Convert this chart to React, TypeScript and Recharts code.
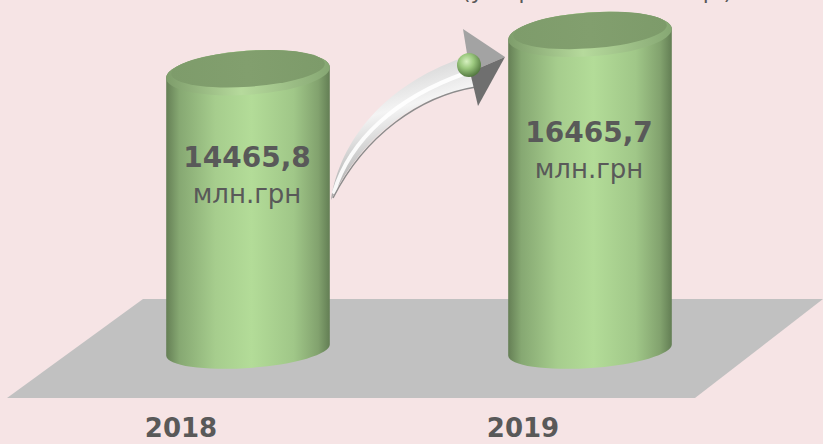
import { BarChart, Bar, XAxis, YAxis, LabelList } from 'recharts';

const years = ['2018', '2019'];
const revenue = [14465.8, 16465.7];
const unit = 'млн.грн';
const caption = '(у порівнянні з 2018 р.)';

const data = years.map((year, i) => ({ year, value: revenue[i] }));

const TILT = -4;
const TEXT = '#595959';

function Cylinder(props: any) {
  const { x, y, width, height } = props;
  const rx = width / 2;
  const cx = x + rx;
  const ryT = 22;
  const ryB = 18;
  const yT = y;
  const yB = y + height;
  const rad = (TILT * Math.PI) / 180;
  const dx = rx * Math.cos(rad);
  const dy = rx * Math.sin(rad);
  const body =
    `M ${cx - dx} ${yT - dy} L ${cx - dx} ${yB - dy} ` +
    `A ${rx} ${ryB} ${TILT} 0 0 ${cx + dx} ${yB + dy} ` +
    `L ${cx + dx} ${yT + dy} ` +
    `A ${rx} ${ryT} ${TILT} 0 0 ${cx - dx} ${yT - dy} Z`;
  return (
    <g>
      <path d={body} fill="url(#cylBody)" />
      <ellipse cx={cx} cy={yT} rx={rx} ry={ryT} transform={`rotate(${TILT} ${cx} ${yT})`} fill="url(#cylRim)" />
      <ellipse cx={cx} cy={yT - 4} rx={rx - 5} ry={ryT - 4} transform={`rotate(${TILT} ${cx} ${yT - 4})`} fill="url(#cylTop)" />
    </g>
  );
}

function ValueLabel(props: any) {
  const { x, y, width, height, value } = props;
  const cx = x + width / 2;
  const base = y + height * 0.34;
  return (
    <g fill={TEXT} fontFamily="'DejaVu Sans', Verdana, sans-serif" textAnchor="middle">
      <text x={cx - 1} y={base} fontSize={28} fontWeight="bold">
        {Number(value).toFixed(1).replace('.', ',')}
      </text>
      <text x={cx - 1} y={base + 36} fontSize={26}>
        {unit}
      </text>
    </g>
  );
}

function YearTick(props: any) {
  const { x, payload } = props;
  return (
    <text x={x - 67} y={437} textAnchor="middle" fill={TEXT} fontSize={26} fontWeight="bold" fontFamily="'DejaVu Sans', Verdana, sans-serif">
      {payload.value}
    </text>
  );
}

export default function App() {
  return (
    <div style={{ position: 'fixed', left: 0, top: 0, width: 823, height: 444, background: '#F6E4E5', overflow: 'hidden' }}>
      <svg width={823} height={444} style={{ position: 'absolute', left: 0, top: 0 }}>
        <polygon points="143,299 823,299 695,398 7,398" fill="#C1C1C1" />
        <text x={462} y={-1} fontSize={22} fill={TEXT} fontFamily="'DejaVu Sans', Verdana, sans-serif">
          {caption}
        </text>
      </svg>
      <div style={{ position: 'absolute', left: 0, top: 0 }}>
        <BarChart width={823} height={444} data={data} margin={{ top: 5, right: 62, bottom: 0, left: 77 }}>
          <defs>
            <linearGradient id="cylBody" x1="0" y1="0" x2="1" y2="0">
              <stop offset="0%" stopColor="#657F55" />
              <stop offset="8%" stopColor="#86A872" />
              <stop offset="30%" stopColor="#A6CD8D" />
              <stop offset="52%" stopColor="#B3DC98" />
              <stop offset="78%" stopColor="#A0C788" />
              <stop offset="93%" stopColor="#82A26E" />
              <stop offset="100%" stopColor="#637E54" />
            </linearGradient>
            <linearGradient id="cylRim" x1="0" y1="0" x2="1" y2="0">
              <stop offset="0%" stopColor="#7E9D6B" />
              <stop offset="45%" stopColor="#B6DA9C" />
              <stop offset="100%" stopColor="#86A773" />
            </linearGradient>
            <linearGradient id="cylTop" x1="0" y1="0" x2="1" y2="0">
              <stop offset="0%" stopColor="#7E9C6B" />
              <stop offset="50%" stopColor="#829F6E" />
              <stop offset="100%" stopColor="#7D9B6A" />
            </linearGradient>
          </defs>
          <XAxis dataKey="year" height={94} axisLine={false} tickLine={false} tick={<YearTick />} interval={0} />
          <YAxis hide domain={[0, 18000]} />
          <Bar dataKey="value" barSize={164} shape={<Cylinder />} isAnimationActive={false}>
            <LabelList dataKey="value" content={<ValueLabel />} />
          </Bar>
        </BarChart>
      </div>
      <svg width={823} height={444} style={{ position: 'absolute', left: 0, top: 0, pointerEvents: 'none' }}>
        <defs>
          <linearGradient id="arrowBody" x1="0" y1="0" x2="0.3" y2="1">
            <stop offset="0%" stopColor="#bdbdbd" />
            <stop offset="45%" stopColor="#f4f4f4" />
            <stop offset="100%" stopColor="#9a9a9a" />
          </linearGradient>
          <radialGradient id="ball" cx="0.4" cy="0.35" r="0.65">
            <stop offset="0%" stopColor="#d6f0c0" />
            <stop offset="45%" stopColor="#9cc97f" />
            <stop offset="100%" stopColor="#557a42" />
          </radialGradient>
        </defs>
        <path d="M 331 200 C 340 140, 385 85, 462 58 L 477 88 C 425 92, 365 130, 331 200 Z" fill="url(#arrowBody)" />
        <path d="M 334 192 C 350 140, 395 98, 466 73" stroke="#ffffff" strokeWidth={4} fill="none" strokeLinecap="round" opacity={0.9} />
        <path d="M 333 198 C 365 135, 420 96, 476 87" stroke="#8c8c8c" strokeWidth={1.5} fill="none" />
        <polygon points="463,29 505,57 470,72" fill="#a3a3a3" />
        <polygon points="470,72 505,57 478,106" fill="#6f6f6f" />
        <circle cx={469} cy={65} r={12} fill="url(#ball)" />
      </svg>
    </div>
  );
}
